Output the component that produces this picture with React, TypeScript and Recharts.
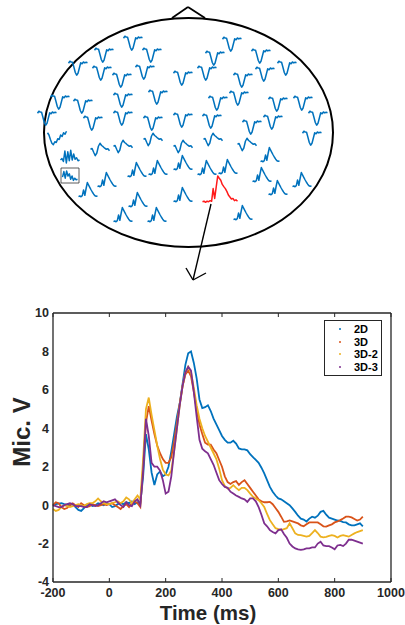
import React from "react";
import {
  ScatterChart,
  Scatter,
  LineChart,
  Line,
  XAxis,
  YAxis,
  ReferenceArea,
  ReferenceLine,
  Legend,
  Label,
} from "recharts";

// ---- ERP grand average (µV), one sample every 10 ms ----
const TIME = [
  -200, -190, -180, -170, -160, -150, -140, -130, -120, -110,
  -100, -90, -80, -70, -60, -50, -40, -30, -20, -10,
  0, 10, 20, 30, 40, 50, 60, 70, 80, 90,
  100, 110, 120, 130, 140, 150, 160, 170, 180, 190,
  200, 210, 220, 230, 240, 250, 260, 270, 280, 290,
  300, 310, 320, 330, 340, 350, 360, 370, 380, 390,
  400, 410, 420, 430, 440, 450, 460, 470, 480, 490,
  500, 510, 520, 530, 540, 550, 560, 570, 580, 590,
  600, 610, 620, 630, 640, 650, 660, 670, 680, 690,
  700, 710, 720, 730, 740, 750, 760, 770, 780, 790,
  800, 810, 820, 830, 840, 850, 860, 870, 880, 890,
  900,
];

const S_2D = [
  -0.05, 0.05, 0.08, 0.1, 0.05, 0.02, 0.0, 0.05, -0.1, -0.25,
  -0.3, -0.15, 0.0, 0.05, -0.05, 0.0, 0.1, 0.05, 0.0, 0.1,
  0.05, -0.1, -0.05, 0.05, 0.1, 0.05, 0.15, 0.1, 0.2, 0.05,
  0.15, 0.1, 1.5, 3.7, 2.9, 1.7, 1.05, 1.6, 1.75, 1.5,
  1.6, 2.0, 2.8, 3.7, 4.6, 5.3, 6.3, 7.3, 7.9, 8.0,
  7.4, 6.6, 5.5, 5.05, 5.1, 5.2, 4.9, 4.5, 4.2, 3.9,
  3.6, 3.4, 3.25, 3.25, 3.35, 3.2, 2.95, 2.9, 2.9, 2.85,
  2.65, 2.5, 2.35, 2.2, 1.95, 1.65, 1.3, 0.95, 0.7, 0.5,
  0.35, 0.3, 0.2, 0.1, 0.0, -0.17, -0.35, -0.55, -0.7, -0.75,
  -0.85, -0.7, -0.6, -0.65, -0.55, -0.35, -0.3, -0.5, -0.65, -0.7,
  -0.75, -0.8, -0.82, -0.88, -0.9, -1.0, -1.05, -1.05, -1.0, -0.95,
  -1.1,
];

const S_3D = [
  0.0, 0.15, 0.1, -0.1, -0.2, -0.15, 0.0, 0.1, 0.0, -0.1,
  0.1, 0.0, -0.1, -0.05, 0.05, 0.0, -0.05, 0.0, 0.05, 0.0,
  0.05, 0.1, 0.0, -0.1, -0.2, -0.05, 0.05, -0.1, 0.1, 0.2,
  0.1, -0.1, 2.0, 4.3, 5.15, 4.4, 3.7, 3.1, 2.7, 2.4,
  2.2, 2.2, 2.5, 3.3, 4.3, 5.3, 6.2, 6.8, 7.0, 6.7,
  5.9, 5.0, 4.2, 3.7, 3.25, 3.15, 3.15, 2.9, 2.7, 2.35,
  2.0, 1.5, 1.2, 1.1, 1.2, 1.25, 1.05, 1.2, 1.3, 1.1,
  0.9, 0.7, 0.5, 0.3, 0.2, 0.15, 0.15, 0.17, 0.05, -0.15,
  -0.35, -0.6, -0.87, -0.85, -0.8, -0.85, -0.9, -0.95, -1.05, -1.1,
  -1.0, -0.9, -0.9, -0.9, -0.9, -1.0, -1.1, -1.12, -1.05, -1.0,
  -0.9, -0.85, -0.78, -0.7, -0.6, -0.6, -0.64, -0.72, -0.8, -0.75,
  -0.6,
];

const S_3D2 = [
  -0.2, -0.3, -0.25, -0.1, 0.0, -0.05, -0.1, -0.05, 0.0, 0.05,
  0.0, -0.05, 0.05, 0.1, 0.1, 0.2, 0.35, 0.2, 0.1, 0.05,
  0.05, 0.1, 0.15, 0.2, 0.1, 0.2, 0.4, 0.3, 0.1, 0.3,
  0.5, 0.3, 2.4, 5.0, 5.6, 4.7, 3.9, 3.1, 2.4, 1.85,
  1.6, 1.55, 1.8, 2.8, 4.0, 5.2, 6.2, 6.9, 7.2, 6.9,
  6.1, 5.2, 4.5, 4.0, 3.6, 3.3, 3.0, 2.7, 2.4, 1.9,
  1.3, 1.0, 0.86, 0.9, 1.04, 0.9, 0.78, 0.9, 0.9, 0.78,
  0.6, 0.43, 0.35, 0.26, 0.1, -0.1, -0.45, -0.78, -1.0, -1.2,
  -1.25, -1.3, -1.25, -1.2, -0.95, -1.2, -1.47, -1.55, -1.56, -1.6,
  -1.64, -1.6, -1.45, -1.3, -1.45, -1.64, -1.68, -1.65, -1.6, -1.56,
  -1.6, -1.68, -1.6, -1.56, -1.6, -1.64, -1.55, -1.47, -1.4, -1.35,
  -1.3,
];

const S_3D3 = [
  0.0, -0.05, -0.1, -0.1, 0.0, 0.05, 0.1, 0.05, -0.05, -0.05,
  -0.05, -0.1, -0.1, 0.05, 0.0, -0.05, 0.0, 0.1, 0.2, 0.15,
  0.2, 0.25, 0.3, 0.15, 0.0, -0.1, 0.15, 0.0, -0.05, 0.2,
  0.3, 0.0, 1.8, 4.5, 3.6, 2.2, 2.0, 2.0, 1.8, 1.3,
  0.6, 0.7, 1.5, 2.8, 4.0, 5.2, 6.2, 6.9, 7.2, 7.0,
  5.9, 4.6, 3.4, 2.94, 2.8, 2.7, 2.4, 2.1, 1.7, 1.3,
  1.1, 0.95, 0.9, 0.7, 0.6, 0.5, 0.43, 0.35, 0.3, 0.17,
  0.35, 0.35, 0.2, -0.1, -0.5, -0.95, -1.1, -1.3, -1.4, -1.47,
  -1.3, -1.26, -1.5, -1.7, -2.0, -2.15, -2.25, -2.3, -2.33, -2.3,
  -2.25, -2.25, -2.2, -2.2, -2.0, -1.9, -2.1, -2.13, -2.13, -2.2,
  -2.3, -2.1, -2.07, -2.13, -2.0, -1.8, -1.8, -1.85, -1.9, -1.95,
  -2.0,
];

const X_TICKS = [-200, 0, 200, 400, 600, 800, 1000];
const Y_TICKS = [-4, -2, 0, 2, 4, 6, 8, 10];

// ---- scalp map: electrode positions and waveform shapes ----
const ELECTRODES: [number, number, string][] = [
  [133, 43, "v"], [232, 44, "v"],
  [104, 55, "v"], [152, 55, "v"], [215, 58, "v"], [261, 56, "v"],
  [78, 68, "v"], [102, 73, "v"], [122, 80, "v"], [145, 72, "v"], [183, 78, "v"],
  [207, 73, "v"], [243, 80, "v"], [265, 74, "v"], [287, 68, "v"],
  [60, 102, "v"], [83, 106, "v"], [123, 100, "v"], [158, 97, "v"], [218, 103, "v"],
  [239, 98, "v"], [278, 104, "v"], [303, 103, "v"],
  [47, 118, "v"], [93, 123, "v"], [123, 118, "v"], [153, 123, "v"], [183, 120, "v"],
  [212, 121, "v"], [252, 127, "v"], [273, 122, "v"], [318, 118, "v"],
  [57, 138, "noisy"], [100, 150, "mix"], [123, 147, "mix"], [153, 140, "mix"],
  [183, 147, "mix"], [213, 140, "mix"], [247, 145, "mix"], [270, 155, "peak"], [312, 138, "v"],
  [70, 157, "burst"], [137, 170, "peak"], [158, 168, "peak"], [183, 163, "peak"],
  [207, 168, "peak"], [228, 167, "peak"], [262, 175, "peak"], [302, 180, "peak"],
  [70, 176, "inset"],
  [88, 190, "peak"], [107, 180, "peak"], [183, 195, "peak"], [278, 188, "peak"],
  [138, 200, "peak"], [123, 215, "peak"], [157, 215, "peak"], [243, 213, "peak"],
  [220, 190, "red"],
];

const WAVE_V = [0.82, 0.95, 0.9, 0.88, 0.55, 0.2, 0.02, 0.15, 0.5, 0.85, 0.78, 0.9, 0.84, 0.88, 0.85];
const WAVE_PEAK = [0.06, 0.1, 0.05, 0.12, 0.5, 0.15, 0.6, 1.0, 0.82, 0.66, 0.5, 0.35, 0.22, 0.12, 0.08, 0.1];
const WAVE_MIX = [0.55, 0.6, 0.35, 0.12, 0.3, 0.75, 0.95, 0.8, 0.72, 0.62, 0.55, 0.58, 0.45];
const WAVE_NOISY = [0.85, 0.7, 0.4, 0.15, 0.05, 0.25, 0.2, 0.45, 0.4, 0.7, 0.6, 0.85, 0.75, 0.95];
const WAVE_BURST = [0.3, 0.4, 0.2, 0.9, 0.1, 0.85, 0.25, 0.95, 0.3, 0.7, 0.35, 0.45, 0.25, 0.3];
const WAVE_INSET = [0.4, 0.9, 0.3, 0.95, 0.5, 0.7, 0.2, 0.5, 0.1, 0.3, 0.15, 0.2];
const WAVE_RED = [
  0.08, 0.1, 0.06, 0.1, 0.08, 0.12, 0.1, 0.55, 0.2, 0.6, 1.0, 0.92,
  0.85, 0.7, 0.62, 0.55, 0.45, 0.32, 0.25, 0.18, 0.2, 0.12, 0.15, 0.1,
];

const WAVES: Record<string, number[]> = {
  v: WAVE_V,
  peak: WAVE_PEAK,
  mix: WAVE_MIX,
  noisy: WAVE_NOISY,
  burst: WAVE_BURST,
  inset: WAVE_INSET,
  red: WAVE_RED,
};

const FONT = '"Liberation Sans", Arial, Helvetica, sans-serif';
const INK = "#262626";
const C_BLUE = "#0072BD";
const C_ORANGE = "#D95319";
const C_YELLOW = "#EDB120";
const C_PURPLE = "#7E2F8E";

const rows = TIME.map((t, i) => ({
  t,
  d2: S_2D[i],
  d3: S_3D[i],
  d32: S_3D2[i],
  d33: S_3D3[i],
}));

const points = ELECTRODES.map(([x, y, kind]) => ({ x, y, kind }));

// small waveform drawn at each electrode position
function Trace(props: any) {
  const { cx, cy, payload } = props;
  const wave = WAVES[payload.kind];
  const big = payload.kind === "red";
  const w = big ? 35 : payload.kind === "inset" ? 15 : 19;
  const h = big ? 28 : payload.kind === "inset" ? 11 : 15;
  const pts = wave
    .map((v, i) => `${cx - w / 2 + (i * w) / (wave.length - 1)},${cy + h / 2 - v * h}`)
    .join(" ");
  return (
    <polyline
      points={pts}
      fill="none"
      stroke={big ? "#FF1A1A" : C_BLUE}
      strokeWidth={1.5}
      strokeLinejoin="round"
    />
  );
}

const HeadShape = (p: any) => (
  <ellipse
    cx={p.x + p.width / 2}
    cy={p.y + p.height / 2}
    rx={p.width / 2}
    ry={p.height / 2}
    fill="none"
    stroke="#000"
    strokeWidth={2}
  />
);

const NoTick = () => <g />;

const LegendBox = ({ payload }: any) => (
  <div
    style={{
      border: `1px solid ${INK}`,
      background: "#fff",
      padding: "2px 0",
      width: 58,
      boxSizing: "border-box",
    }}
  >
    {(payload || []).map((p: any) => (
      <div
        key={p.value}
        style={{
          display: "flex",
          alignItems: "center",
          height: 12.6,
          fontSize: 11,
          fontWeight: 700,
          fontFamily: FONT,
          color: "#000",
          lineHeight: "12.6px",
        }}
      >
        <span
          style={{
            width: 2,
            height: 2,
            borderRadius: 1,
            background: p.color,
            marginLeft: 14,
            marginRight: 13,
          }}
        />
        {p.value}
      </div>
    ))}
  </div>
);

const XTitle = (p: any) => {
  const { x, width } = p.viewBox;
  return (
    <text
      x={x + width / 2 - 14}
      y={330}
      textAnchor="middle"
      fontFamily={FONT}
      fontWeight={700}
      fontSize={20.5}
      fill={INK}
    >
      Time (ms)
    </text>
  );
};

const YTitle = () => {
  const cx = 30;
  const cy = 142;
  return (
    <text
      x={cx}
      y={cy}
      transform={`rotate(-90 ${cx} ${cy})`}
      textAnchor="middle"
      fontFamily={FONT}
      fontWeight={700}
      fontSize={24}
      fill={INK}
    >
      Mic. V
    </text>
  );
};

const tickStyle = { fill: INK, fontSize: 12.5, fontWeight: 700, fontFamily: FONT };

export default function App() {
  return (
    <div style={{ position: "absolute", left: 0, top: 0, width: 405, height: 625, background: "#fff" }}>
      <div style={{ position: "absolute", left: 0, top: 0 }}>
        <ScatterChart width={405} height={290} margin={{ top: 0, right: 0, bottom: 0, left: 0 }}>
          <XAxis type="number" dataKey="x" domain={[0, 405]} hide allowDataOverflow />
          <YAxis type="number" dataKey="y" domain={[0, 290]} reversed hide allowDataOverflow />
          <ReferenceArea x1={44} x2={333} y1={18} y2={247} shape={HeadShape} ifOverflow="visible" />
          <ReferenceLine segment={[{ x: 172, y: 18 }, { x: 188, y: 7 }]} stroke="#000" strokeWidth={1.8} ifOverflow="visible" />
          <ReferenceLine segment={[{ x: 188, y: 7 }, { x: 205, y: 18 }]} stroke="#000" strokeWidth={1.8} ifOverflow="visible" />
          <ReferenceArea x1={61} x2={79} y1={168} y2={183} fill="none" stroke="#333" strokeWidth={0.8} ifOverflow="visible" />
          <Scatter data={points} shape={Trace} isAnimationActive={false} />
          <ReferenceLine segment={[{ x: 211, y: 204 }, { x: 193, y: 280 }]} stroke="#000" strokeWidth={1.4} ifOverflow="visible" />
          <ReferenceLine segment={[{ x: 193, y: 280 }, { x: 186, y: 268 }]} stroke="#000" strokeWidth={1.4} ifOverflow="visible" />
          <ReferenceLine segment={[{ x: 193, y: 280 }, { x: 206, y: 273 }]} stroke="#000" strokeWidth={1.4} ifOverflow="visible" />
        </ScatterChart>
      </div>

      <div style={{ position: "absolute", left: 0, top: 290 }}>
        <LineChart width={405} height={335} data={rows} margin={{ top: 23, right: 14, bottom: 3, left: 8 }}>
          <XAxis
            dataKey="t"
            type="number"
            domain={[-200, 1000]}
            ticks={X_TICKS}
            interval={0}
            height={40}
            tickLine={false}
            tickSize={0}
            tickMargin={6}
            axisLine={{ stroke: INK, strokeWidth: 1.3 }}
            tick={tickStyle}
            label={<Label content={XTitle} />}
          />
          <XAxis xAxisId="bin" dataKey="t" type="number" domain={[-200, 1000]} ticks={X_TICKS} interval={0}
            mirror axisLine={false} tickLine={{ stroke: INK }} tickSize={4} tick={NoTick} />
          <XAxis xAxisId="top" orientation="top" dataKey="t" type="number" domain={[-200, 1000]} ticks={X_TICKS}
            interval={0} mirror axisLine={{ stroke: INK, strokeWidth: 1.3 }} tickLine={{ stroke: INK }} tickSize={4} tick={NoTick} />
          <YAxis
            type="number"
            domain={[-4, 10]}
            ticks={Y_TICKS}
            interval={0}
            width={45}
            tickLine={false}
            tickSize={0}
            tickMargin={4}
            axisLine={{ stroke: INK, strokeWidth: 1.3 }}
            tick={tickStyle}
            label={<Label content={YTitle} />}
          />
          <YAxis yAxisId="lin" type="number" domain={[-4, 10]} ticks={Y_TICKS} interval={0}
            mirror axisLine={false} tickLine={{ stroke: INK }} tickSize={4} tick={NoTick} />
          <YAxis yAxisId="right" orientation="right" type="number" domain={[-4, 10]} ticks={Y_TICKS} interval={0}
            mirror axisLine={{ stroke: INK, strokeWidth: 1.3 }} tickLine={{ stroke: INK }} tickSize={4} tick={NoTick} />
          <Legend
            layout="vertical"
            align="center"
            verticalAlign="middle"
            content={LegendBox}
            wrapperStyle={{ top: 30, left: 324, width: 58 }}
          />
          <Line dataKey="d2" name="2D" stroke={C_BLUE} strokeWidth={1.8} dot={false} isAnimationActive={false} />
          <Line dataKey="d3" name="3D" stroke={C_ORANGE} strokeWidth={1.8} dot={false} isAnimationActive={false} />
          <Line dataKey="d32" name="3D-2" stroke={C_YELLOW} strokeWidth={1.8} dot={false} isAnimationActive={false} />
          <Line dataKey="d33" name="3D-3" stroke={C_PURPLE} strokeWidth={1.8} dot={false} isAnimationActive={false} />
        </LineChart>
      </div>
    </div>
  );
}
